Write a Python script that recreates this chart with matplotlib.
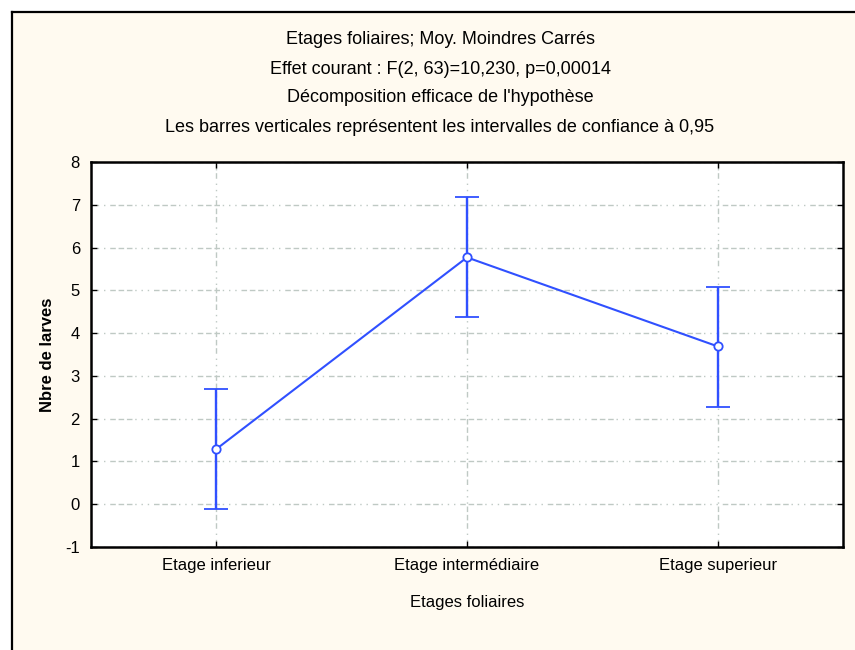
import matplotlib
matplotlib.use("Agg")
import matplotlib.pyplot as plt
from matplotlib.patches import Rectangle
from matplotlib.lines import Line2D

plt.rcParams['font.family'] = ['Liberation Sans', 'DejaVu Sans']
plt.rcParams['axes.unicode_minus'] = False

etages = ["Etage inferieur", "Etage intermédiaire", "Etage superieur"]
moyennes = [1.29, 5.77, 3.69]
ic_bas = [-0.12, 4.37, 2.28]
ic_haut = [2.70, 7.18, 5.07]

titres = ["Etages foliaires; Moy. Moindres Carrés",
          "Effet courant : F(2, 63)=10,230, p=0,00014",
          "Décomposition efficace de l'hypothèse",
          "Les barres verticales représentent les intervalles de confiance à 0,95"]

W, H = 855, 650
fig = plt.figure(figsize=(W / 100, H / 100), dpi=100, facecolor="white")

# fond crème avec bord noir à gauche et en haut
fig.patches.append(Rectangle((12 / W, 0), 1, 1 - 12 / H, transform=fig.transFigure,
                             facecolor="#fffaf0", edgecolor="none", zorder=-5))
fig.lines.append(Line2D([11.5 / W, 11.5 / W], [0, 1 - 11.5 / H], transform=fig.transFigure,
                        color="black", lw=1.6, zorder=-4))
fig.lines.append(Line2D([11.5 / W, 1], [1 - 11.5 / H, 1 - 11.5 / H], transform=fig.transFigure,
                        color="black", lw=1.6, zorder=-4))

ax = fig.add_axes([91 / W, 1 - 547 / H, (843 - 91) / W, (547 - 162) / H])
ax.set_facecolor("white")

x = list(range(len(etages)))
err_bas = [m - b for m, b in zip(moyennes, ic_bas)]
err_haut = [h - m for m, h in zip(moyennes, ic_haut)]

ax.errorbar(x, moyennes, yerr=[err_bas, err_haut], color="#3050ff", lw=1.5,
            elinewidth=1.7, capsize=8.5, capthick=1.7, marker="o", markersize=6,
            markerfacecolor="white", markeredgecolor="#3050ff", markeredgewidth=1.3,
            zorder=3)

ax.set_xlim(-0.5, 2.5)
ax.set_ylim(-1, 8)
ax.set_yticks(range(-1, 9))
ax.set_xticks(x)
ax.set_xticklabels(etages, fontsize=12)
ax.tick_params(axis="y", labelsize=12)
ax.tick_params(direction="in", length=4, width=1, top=True, right=True, pad=8)

motif = (0, (1, 3.5, 1, 3.5, 1, 3.5, 4, 2, 4, 2, 4, 2))
ax.grid(True, color="#bfc9c4", lw=1, linestyle=motif)
ax.set_axisbelow(True)
for s in ax.spines.values():
    s.set_linewidth(1.8)

ax.set_ylabel("Nbre de larves", fontsize=12, fontweight="bold", labelpad=7)
ax.set_xlabel("Etages foliaires", fontsize=12, labelpad=16)

for i, t in enumerate(titres):
    fig.text(440 / W, 1 - (40 + 29 * i) / H, t, ha="center", va="center", fontsize=13)

fig.savefig("out.png", dpi=100, facecolor=fig.get_facecolor())
